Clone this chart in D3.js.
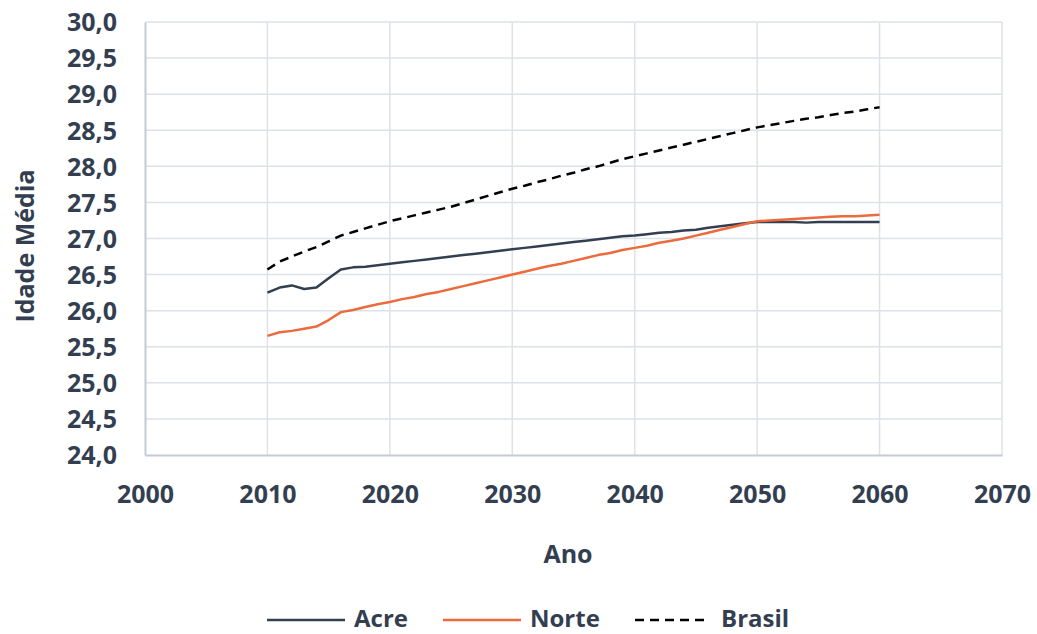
<!DOCTYPE html>
<html>
<head>
<meta charset="utf-8">
<script src="https://cdn.jsdelivr.net/npm/d3@7"></script>
<style>
  html, body { margin: 0; padding: 0; background: #ffffff; }
  svg text { font-family: "Open Sans", "Liberation Sans", sans-serif; font-weight: 700; fill: #333F50; }
</style>
</head>
<body>
<svg id="chart" width="1037" height="634"></svg>
<script>
// Anos projetados (2010–2060)
const years = d3.range(2010, 2061);

// Idade média projetada por ano
const acre = [
  26.25, 26.32, 26.35, 26.30, 26.32, 26.45, 26.57, 26.60, 26.61, 26.63,
  26.65, 26.67, 26.69, 26.71, 26.73, 26.75, 26.77, 26.79, 26.81, 26.83,
  26.85, 26.87, 26.89, 26.91, 26.93, 26.95, 26.97, 26.99, 27.01, 27.03,
  27.04, 27.06, 27.08, 27.09, 27.11, 27.12, 27.15, 27.17, 27.19, 27.21,
  27.23, 27.23, 27.23, 27.23, 27.22, 27.23, 27.23, 27.23, 27.23, 27.23,
  27.23
];
const norte = [
  25.65, 25.70, 25.72, 25.75, 25.78, 25.87, 25.98, 26.01, 26.05, 26.09,
  26.12, 26.16, 26.19, 26.23, 26.26, 26.30, 26.34, 26.38, 26.42, 26.46,
  26.50, 26.54, 26.58, 26.62, 26.65, 26.69, 26.73, 26.77, 26.80, 26.84,
  26.87, 26.90, 26.94, 26.97, 27.00, 27.04, 27.08, 27.12, 27.16, 27.20,
  27.24, 27.25, 27.26, 27.27, 27.28, 27.29, 27.30, 27.31, 27.31, 27.32,
  27.33
];
const brasil = [
  26.57, 26.68, 26.75, 26.82, 26.88, 26.96, 27.04, 27.09, 27.14, 27.19,
  27.24, 27.28, 27.32, 27.36, 27.40, 27.44, 27.49, 27.54, 27.59, 27.64,
  27.69, 27.73, 27.78, 27.82, 27.87, 27.91, 27.96, 28.00, 28.05, 28.10,
  28.14, 28.18, 28.22, 28.26, 28.30, 28.34, 28.38, 28.42, 28.46, 28.50,
  28.54, 28.57, 28.60, 28.63, 28.66, 28.68, 28.71, 28.74, 28.76, 28.79,
  28.82
];

// Marcas dos eixos
const xTicks = [2000, 2010, 2020, 2030, 2040, 2050, 2060, 2070];
const yTicks = [24.0, 24.5, 25.0, 25.5, 26.0, 26.5, 27.0, 27.5, 28.0, 28.5, 29.0, 29.5, 30.0];

const seriesNames = ["Acre", "Norte", "Brasil"];

const series = [
  { name: seriesNames[0], values: acre,   color: "#333F50", dash: null },
  { name: seriesNames[1], values: norte,  color: "#EC6A3B", dash: null },
  { name: seriesNames[2], values: brasil, color: "#000000", dash: "9,6" }
];

const svg = d3.select("#chart");
const plot = { left: 145, right: 1002, top: 22, bottom: 455 };

const x = d3.scaleLinear().domain([2000, 2070]).range([plot.left, plot.right]);
const y = d3.scaleLinear().domain([24, 30]).range([plot.bottom, plot.top]);

const fmt = v => d3.format(".1f")(v).replace(".", ",");

// Grade
const grid = svg.append("g");
grid.selectAll("line.h")
  .data(yTicks.filter(v => v > 24))
  .join("line")
  .attr("x1", plot.left).attr("x2", plot.right)
  .attr("y1", d => y(d)).attr("y2", d => y(d))
  .attr("stroke", "#DDE2EA").attr("stroke-width", 1.5);
grid.selectAll("line.v")
  .data(xTicks.filter(v => v > 2000))
  .join("line")
  .attr("x1", d => x(d)).attr("x2", d => x(d))
  .attr("y1", plot.top).attr("y2", plot.bottom)
  .attr("stroke", "#DDE2EA").attr("stroke-width", 1.5);

// Eixo Y
const yAxis = svg.append("g")
  .attr("transform", `translate(${plot.left},0)`)
  .call(d3.axisLeft(y).tickValues(yTicks).tickFormat(fmt).tickSize(0).tickPadding(28));
yAxis.select(".domain").attr("stroke", "#C3CBD8").attr("stroke-width", 2);
yAxis.selectAll("text").attr("font-size", 25).attr("fill", "#333F50")
  .style("font-family", "'Open Sans', sans-serif").attr("dy", "0.35em");

// Eixo X
const xAxis = svg.append("g")
  .attr("transform", `translate(0,${plot.bottom})`)
  .call(d3.axisBottom(x).tickValues(xTicks).tickFormat(d3.format("d")).tickSize(0).tickPadding(29));
xAxis.select(".domain").attr("stroke", "#C3CBD8").attr("stroke-width", 2);
xAxis.selectAll("text").attr("font-size", 25).attr("fill", "#333F50")
  .style("font-family", "'Open Sans', sans-serif").attr("dy", "0");
xAxis.selectAll("text").attr("y", 48);

// Linhas das séries
const line = d3.line()
  .x((d, i) => x(years[i]))
  .y(d => y(d));

svg.append("g").selectAll("path")
  .data(series)
  .join("path")
  .attr("d", s => line(s.values))
  .attr("fill", "none")
  .attr("stroke", s => s.color)
  .attr("stroke-width", 2.5)
  .attr("stroke-dasharray", s => s.dash)
  .attr("stroke-linejoin", "round");

// Títulos dos eixos
svg.append("text")
  .attr("transform", "translate(34,246) rotate(-90)")
  .attr("text-anchor", "middle")
  .attr("font-size", 25)
  .text("Idade Média");

svg.append("text")
  .attr("x", 568).attr("y", 563)
  .attr("text-anchor", "middle")
  .attr("font-size", 25)
  .text("Ano");

// Legenda
const legendX = [267, 443, 635];
const legend = svg.append("g");
series.forEach((s, i) => {
  const g = legend.append("g").attr("transform", `translate(${legendX[i]},620)`);
  g.append("line")
    .attr("x1", 0).attr("x2", i === 2 ? 72 : 78)
    .attr("y1", 0).attr("y2", 0)
    .attr("stroke", s.color)
    .attr("stroke-width", 2.5)
    .attr("stroke-dasharray", s.dash);
  g.append("text")
    .attr("x", i === 2 ? 86 : 87)
    .attr("y", 7)
    .attr("font-size", 24)
    .text(s.name);
});
</script>
</body>
</html>
